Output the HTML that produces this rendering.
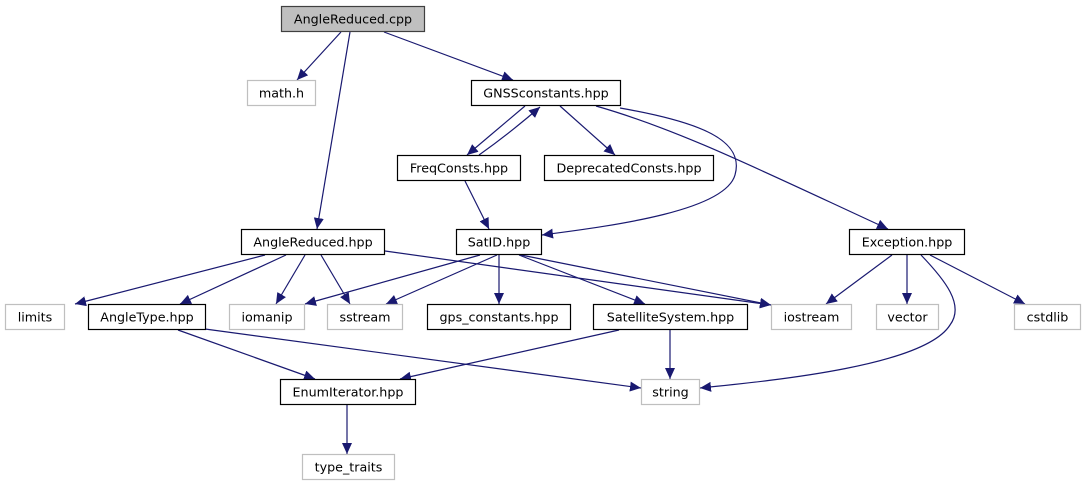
<!DOCTYPE html>
<html><head><meta charset="utf-8"><style>
html,body{margin:0;padding:0;background:#fff;}
svg{display:block;}
text{font-family:"DejaVu Sans","Liberation Sans",sans-serif;font-size:12.7px;fill:#000;}
</style></head><body>
<svg width="1086" height="485" viewBox="0 0 1086 485" xmlns="http://www.w3.org/2000/svg">
<defs>
<marker id="a" markerUnits="userSpaceOnUse" markerWidth="13" markerHeight="11" refX="11" refY="5" orient="auto">
<path d="M0,0 L11,5 L0,10 Z" fill="#191970"/>
</marker>
</defs>
<g fill="none" stroke="#191970" stroke-width="1.2" marker-end="url(#a)">
<path d="M341,32 L297,80"/>
<path d="M350,32 L317,229"/>
<path d="M384,32 L513,80"/>
<path d="M525,106 L467,155"/>
<path d="M479,155 Q510,133 540,107"/>
<path d="M560,106 L615,155"/>
<path d="M620,108 C700,122 745,140 735,175 C725,210 620,225 542,235"/>
<path d="M596,106 C680,130 760,170 888,229"/>
<path d="M465,181 L489,229"/>
<path d="M265,255 L75,304"/>
<path d="M286,255 L180,304"/>
<path d="M305,255 L276,304"/>
<path d="M321,255 L350,304"/>
<path d="M385,251 L771,305"/>
<path d="M480,255 L305,304"/>
<path d="M497,255 L386,304"/>
<path d="M499,255 L499,304"/>
<path d="M519,255 L645,304"/>
<path d="M521,255 L771,305"/>
<path d="M892,255 L826,304"/>
<path d="M907,255 L907,304"/>
<path d="M921,255 C945,280 965,305 950,325 C925,365 780,380 700,388"/>
<path d="M930,255 L1025,304"/>
<path d="M178,330 L315,379"/>
<path d="M205,329 L641,388"/>
<path d="M619,330 L400,379"/>
<path d="M670,330 L670,379"/>
<path d="M347,405 L347,454"/>
</g>
<g stroke-width="1.2">
<rect x="281.5" y="6.5" width="143" height="25" fill="#bfbfbf" stroke="#404040"/>
<rect x="247.5" y="80.5" width="68" height="25" fill="#fff" stroke="#bfbfbf"/>
<rect x="471.5" y="80.5" width="149" height="25" fill="#fff" stroke="#000"/>
<rect x="397.5" y="155.5" width="123" height="25" fill="#fff" stroke="#000"/>
<rect x="544.5" y="155.5" width="169" height="25" fill="#fff" stroke="#000"/>
<rect x="241.5" y="229.5" width="143" height="25" fill="#fff" stroke="#000"/>
<rect x="456.5" y="229.5" width="85" height="25" fill="#fff" stroke="#000"/>
<rect x="849.5" y="229.5" width="115" height="25" fill="#fff" stroke="#000"/>
<rect x="5.5" y="304.5" width="59" height="25" fill="#fff" stroke="#bfbfbf"/>
<rect x="88.5" y="304.5" width="117" height="25" fill="#fff" stroke="#000"/>
<rect x="229.5" y="304.5" width="75" height="25" fill="#fff" stroke="#bfbfbf"/>
<rect x="327.5" y="304.5" width="75" height="25" fill="#fff" stroke="#bfbfbf"/>
<rect x="427.5" y="304.5" width="143" height="25" fill="#fff" stroke="#000"/>
<rect x="593.5" y="304.5" width="154" height="25" fill="#fff" stroke="#000"/>
<rect x="771.5" y="304.5" width="80" height="25" fill="#fff" stroke="#bfbfbf"/>
<rect x="876.5" y="304.5" width="62" height="25" fill="#fff" stroke="#bfbfbf"/>
<rect x="1014.5" y="304.5" width="66" height="25" fill="#fff" stroke="#bfbfbf"/>
<rect x="280.5" y="379.5" width="135" height="25" fill="#fff" stroke="#000"/>
<rect x="641.5" y="379.5" width="58" height="25" fill="#fff" stroke="#bfbfbf"/>
<rect x="302.5" y="454.5" width="92" height="25" fill="#fff" stroke="#bfbfbf"/>
</g>
<g text-anchor="middle">
<text x="353" y="23.5">AngleReduced.cpp</text>
<text x="281.5" y="97.5">math.h</text>
<text x="546" y="97.5">GNSSconstants.hpp</text>
<text x="459" y="172.5">FreqConsts.hpp</text>
<text x="629" y="172.5">DeprecatedConsts.hpp</text>
<text x="313" y="246.5">AngleReduced.hpp</text>
<text x="499" y="246.5">SatID.hpp</text>
<text x="907" y="246.5">Exception.hpp</text>
<text x="35" y="321.5">limits</text>
<text x="147" y="321.5">AngleType.hpp</text>
<text x="267" y="321.5">iomanip</text>
<text x="365" y="321.5">sstream</text>
<text x="499" y="321.5">gps_constants.hpp</text>
<text x="670.5" y="321.5">SatelliteSystem.hpp</text>
<text x="811.5" y="321.5">iostream</text>
<text x="907.5" y="321.5">vector</text>
<text x="1047.5" y="321.5">cstdlib</text>
<text x="348" y="396.5">EnumIterator.hpp</text>
<text x="670.5" y="396.5">string</text>
<text x="348.5" y="471.5">type_traits</text>
</g>
</svg>
</body></html>
